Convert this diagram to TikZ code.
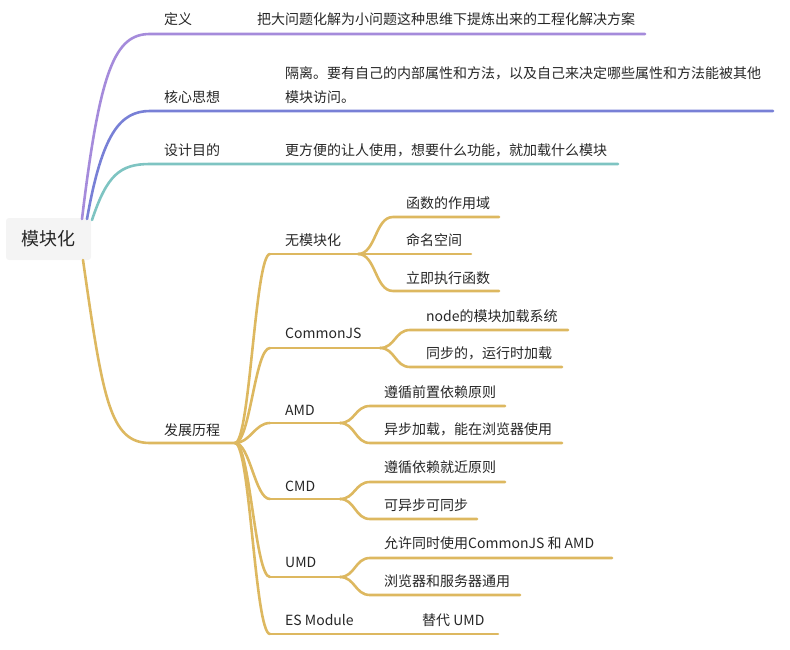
\documentclass[tikz,border=0pt]{standalone}
\usepackage{fontspec}
\setmainfont{Noto Sans CJK SC}
\usetikzlibrary{positioning}
\definecolor{mmpurple}{HTML}{A58BDB}
\definecolor{mmblue}{HTML}{7880D6}
\definecolor{mmteal}{HTML}{7EC4C2}
\definecolor{mmgold}{HTML}{DDB860}
\definecolor{mmroot}{HTML}{F4F4F4}
\definecolor{mmink}{HTML}{262626}

\begin{document}
\begin{tikzpicture}[x=1pt, y=-1pt, font=\fontsize{14}{24}\selectfont,
      txt/.style={anchor=west, inner sep=0pt, text=mmink},
      br/.style={line width=2.6pt, line cap=round},
      pu/.style={br, draw=mmpurple},
      bl/.style={br, draw=mmblue},
      te/.style={br, draw=mmteal},
      go/.style={br, draw=mmgold}]
      \useasboundingbox (0,0) rectangle (790,650);

      \node[fill=mmroot, rounded corners=3pt, minimum width=85pt, minimum height=42pt,
            text=mmink, font=\fontsize{18}{22}\selectfont] (root) at (48.5,239) {模块化};

      % main branches
      \coordinate (r1) at (82,219); \coordinate (r2) at (87,219);
      \coordinate (r3) at (92,220); \coordinate (r4) at (83,260);
      \coordinate (defA) at (150,34); \coordinate (defB) at (645,34);
      \coordinate (coreA) at (150,111); \coordinate (coreB) at (773,111);
      \coordinate (aimA) at (150,164); \coordinate (aimB) at (618,164);
      \coordinate (histA) at (150,443); \coordinate (hj) at (235,443);

      \node[txt] (def) at (164,19) {定义};
      \node[txt] (defT) at (257,19) {把大问题化解为小问题这种思维下提炼出来的工程化解决方案};
      \node[txt] (core) at (164,97) {核心思想};
      \node[txt, align=left] (coreT) at (285,85) {隔离。要有自己的内部属性和方法，以及自己来决定哪些属性和方法能被其他\\模块访问。};
      \node[txt] (aim) at (164,150) {设计目的};
      \node[txt] (aimT) at (285,150) {更方便的让人使用，想要什么功能，就加载什么模块};
      \node[txt] (hist) at (164,430) {发展历程};

      \draw[pu] (r1) .. controls +(18,-150) and +(-35,0) .. (defA) -- (defB);
      \draw[bl] (r2) .. controls +(15,-85) and +(-30,0) .. (coreA) -- (coreB);
      \draw[te] (r3) .. controls +(15,-45) and +(-30,0) .. (aimA) -- (aimB);
      \draw[go] (r4) .. controls +(20,140) and +(-40,0) .. (histA) -- (hj);

      % history
      \coordinate (nmA) at (270,254); \coordinate (nmB) at (358,254);
      \coordinate (cjA) at (270,348); \coordinate (cjB) at (380,348);
      \coordinate (amA) at (270,423); \coordinate (amB) at (340,423);
      \coordinate (cmA) at (270,499); \coordinate (cmB) at (340,499);
      \coordinate (umA) at (270,577); \coordinate (umB) at (340,577);
      \coordinate (esA) at (270,634); \coordinate (esB) at (498,634);

      \node[txt] (nm) at (285,240) {无模块化};
      \node[txt] (cj) at (285,333) {CommonJS};
      \node[txt] (am) at (285,410) {AMD};
      \node[txt] (cm) at (285,486) {CMD};
      \node[txt] (um) at (285,562) {UMD};
      \node[txt] (es) at (285,620) {ES Module};

      \foreach \t in {nmA, cjA, amA, cmA, umA, esA}
        \draw[go] (hj) .. controls +(15,0) and +(-15,0) .. (\t);
      \draw[go] (nmA) -- (nmB); \draw[go] (cjA) -- (cjB); \draw[go] (amA) -- (amB);
      \draw[go] (cmA) -- (cmB); \draw[go] (umA) -- (umB); \draw[go] (esA) -- (esB);

      % leaves
      \coordinate (nm1A) at (393,217); \coordinate (nm1B) at (499,217);
      \coordinate (nm2B) at (471,254);
      \coordinate (nm3A) at (393,291); \coordinate (nm3B) at (499,291);
      \coordinate (cj1A) at (410,330); \coordinate (cj1B) at (568,330);
      \coordinate (cj2A) at (410,367); \coordinate (cj2B) at (562,367);
      \coordinate (am1A) at (370,406); \coordinate (am1B) at (505,406);
      \coordinate (am2A) at (370,443); \coordinate (am2B) at (562,443);
      \coordinate (cm1A) at (370,482); \coordinate (cm1B) at (505,482);
      \coordinate (cm2A) at (370,519); \coordinate (cm2B) at (477,519);
      \coordinate (um1A) at (370,558); \coordinate (um1B) at (612,558);
      \coordinate (um2A) at (370,595); \coordinate (um2B) at (520,595);

      \node[txt] (nm1) at (406,203) {函数的作用域};
      \node[txt] (nm2) at (406,240) {命名空间};
      \node[txt] (nm3) at (406,278) {立即执行函数};
      \node[txt] (cj1) at (426,316) {node的模块加载系统};
      \node[txt] (cj2) at (426,353) {同步的，运行时加载};
      \node[txt] (am1) at (384,392) {遵循前置依赖原则};
      \node[txt] (am2) at (384,429) {异步加载，能在浏览器使用};
      \node[txt] (cm1) at (384,467) {遵循依赖就近原则};
      \node[txt] (cm2) at (384,505) {可异步可同步};
      \node[txt] (um1) at (384,543) {允许同时使用CommonJS 和 AMD};
      \node[txt] (um2) at (384,581) {浏览器和服务器通用};
      \node[txt] (es1) at (422,620) {替代 UMD};

      \draw[go] (nmB) .. controls +(18,0) and +(-18,0) .. (nm1A) -- (nm1B);
      \draw[go] (nmB) -- (nm2B);
      \draw[go] (nmB) .. controls +(18,0) and +(-18,0) .. (nm3A) -- (nm3B);
      \draw[go] (cjB) .. controls +(15,0) and +(-15,0) .. (cj1A) -- (cj1B);
      \draw[go] (cjB) .. controls +(15,0) and +(-15,0) .. (cj2A) -- (cj2B);
      \draw[go] (amB) .. controls +(15,0) and +(-15,0) .. (am1A) -- (am1B);
      \draw[go] (amB) .. controls +(15,0) and +(-15,0) .. (am2A) -- (am2B);
      \draw[go] (cmB) .. controls +(15,0) and +(-15,0) .. (cm1A) -- (cm1B);
      \draw[go] (cmB) .. controls +(15,0) and +(-15,0) .. (cm2A) -- (cm2B);
      \draw[go] (umB) .. controls +(15,0) and +(-15,0) .. (um1A) -- (um1B);
      \draw[go] (umB) .. controls +(15,0) and +(-15,0) .. (um2A) -- (um2B);
    \end{tikzpicture}
\end{document}
